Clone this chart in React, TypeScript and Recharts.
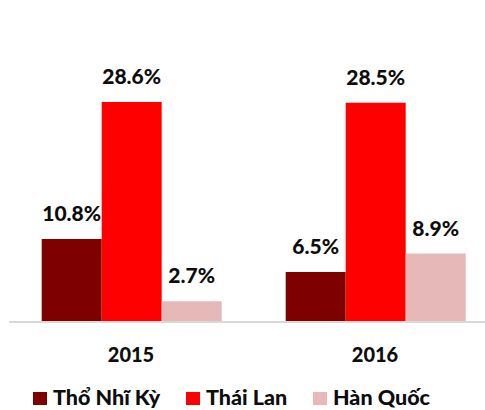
import React from 'react';
import { BarChart, Bar, XAxis, YAxis, LabelList, Legend } from 'recharts';

const categories = ['2015', '2016'];
const thoNhiKy = [10.8, 6.5];
const thaiLan = [28.6, 28.5];
const hanQuoc = [2.7, 8.9];

const seriesNames = ['Thổ Nhĩ Kỳ', 'Thái Lan', 'Hàn Quốc'];
const seriesColors = ['#7f0000', '#ff0000', '#e6b9b8'];
const legendLefts = [0, 153, 280];

const data = categories.map((c, i) => ({
  year: c,
  a: thoNhiKy[i],
  b: thaiLan[i],
  c: hanQuoc[i],
}));

const FONT = 'Lato, "Noto Sans", sans-serif';
const fmt = (v: any) => `${Number(v).toFixed(1)}%`;

const LegendContent = () => (
  <div style={{ position: 'relative', height: 24, fontFamily: FONT, fontWeight: 900, fontSize: 21.5, lineHeight: '22px', color: '#0d0d0d' }}>
    {seriesNames.map((n, i) => (
      <div key={n} style={{ position: 'absolute', left: legendLefts[i], top: 0, display: 'flex', alignItems: 'center', whiteSpace: 'nowrap' }}>
        <span style={{ display: 'inline-block', width: 14, height: 13, background: seriesColors[i], marginRight: 6, marginTop: 3 }} />
        <span>{n}</span>
      </div>
    ))}
  </div>
);

export default function App() {
  const keys = ['a', 'b', 'c'];
  return (
    <div style={{ position: 'fixed', left: 0, top: 0, width: 485, height: 410, overflow: 'hidden', background: '#fff' }}>
      <BarChart
        width={500}
        height={410}
        data={data}
        margin={{ top: 45, right: 3, bottom: 0, left: 9 }}
        barCategoryGap="13.4%"
        barGap={0}
      >
        <XAxis
          dataKey="year"
          height={88}
          axisLine={{ stroke: '#d9d9d9', strokeWidth: 2 }}
          tickLine={false}
          tickSize={0}
          tickMargin={26}
          tick={{ fill: '#0d0d0d', fontFamily: FONT, fontWeight: 900, fontSize: 20 }}
        />
        <YAxis hide domain={[0, 36]} />
        <Legend
          layout="horizontal"
          verticalAlign="middle"
          align="center"
          wrapperStyle={{ position: 'absolute', top: 386, left: 33, width: 450 }}
          content={<LegendContent />}
        />
        {keys.map((k, i) => (
          <Bar key={k} dataKey={k} name={seriesNames[i]} fill={seriesColors[i]} isAnimationActive={false}>
            <LabelList
              dataKey={k}
              position="top"
              offset={18}
              formatter={fmt}
              style={{ fill: '#0d0d0d', fontFamily: FONT, fontWeight: 900, fontSize: 21 }}
            />
          </Bar>
        ))}
      </BarChart>
    </div>
  );
}
